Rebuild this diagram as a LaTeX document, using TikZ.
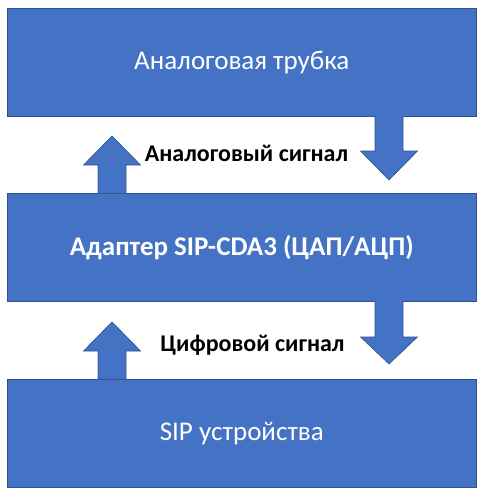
\documentclass[tikz,border=0pt]{standalone}
\usepackage{fontspec}
\setmainfont{Carlito}
\definecolor{boxblue}{HTML}{4472C4}
\definecolor{boxedge}{HTML}{2F528F}
\begin{document}
\begin{tikzpicture}[x=1pt,y=-1pt,
  box/.style={fill=boxblue, draw=boxedge, line width=0.6pt, minimum width=469pt, minimum height=108pt, anchor=north west, inner sep=0pt, text=white, font=\fontsize{27}{32}\selectfont},
  lbl/.style={text=black, font=\bfseries\fontsize{24}{28}\selectfont, inner sep=0pt},
  arrfill/.style={fill=boxblue},
  arredge/.style={draw=boxedge, line width=0.6pt, line join=miter}]
\useasboundingbox (0,0) rectangle (483,495);
\node[box] (tube) at (7,8) {Аналоговая трубка};
\node[box, font=\bfseries\fontsize{27}{32}\selectfont] (adapter) at (7,193) {Адаптер SIP-CDA3 (ЦАП/АЦП)};
\node[box] (sip) at (7,379) {SIP устройства};
% down arrow 1
\fill[arrfill] (375,116) -- (403,116) -- (403,151) -- (417.5,151) -- (389,180) -- (360.5,151) -- (375,151) -- cycle;
\draw[arredge] (375,116) -- (375,151) -- (360.5,151) -- (389,180) -- (417.5,151) -- (403,151) -- (403,116);
% up arrow 1
\fill[arrfill] (98,193) -- (126,193) -- (126,165) -- (140.5,165) -- (112,136) -- (83.5,165) -- (98,165) -- cycle;
\draw[arredge] (98,193) -- (98,165) -- (83.5,165) -- (112,136) -- (140.5,165) -- (126,165) -- (126,193);
% down arrow 2
\fill[arrfill] (375,301) -- (403,301) -- (403,337) -- (417.5,337) -- (389,364) -- (360.5,337) -- (375,337) -- cycle;
\draw[arredge] (375,301) -- (375,337) -- (360.5,337) -- (389,364) -- (417.5,337) -- (403,337) -- (403,301);
% up arrow 2
\fill[arrfill] (98,379) -- (126,379) -- (126,351) -- (140.5,351) -- (112,322) -- (83.5,351) -- (98,351) -- cycle;
\draw[arredge] (98,379) -- (98,351) -- (83.5,351) -- (112,322) -- (140.5,351) -- (126,351) -- (126,379);
\node[lbl] (analog) at (246.5,153) {Аналоговый сигнал};
\node[lbl] (digital) at (252.5,345) {Цифровой сигнал};
\end{tikzpicture}
\end{document}
